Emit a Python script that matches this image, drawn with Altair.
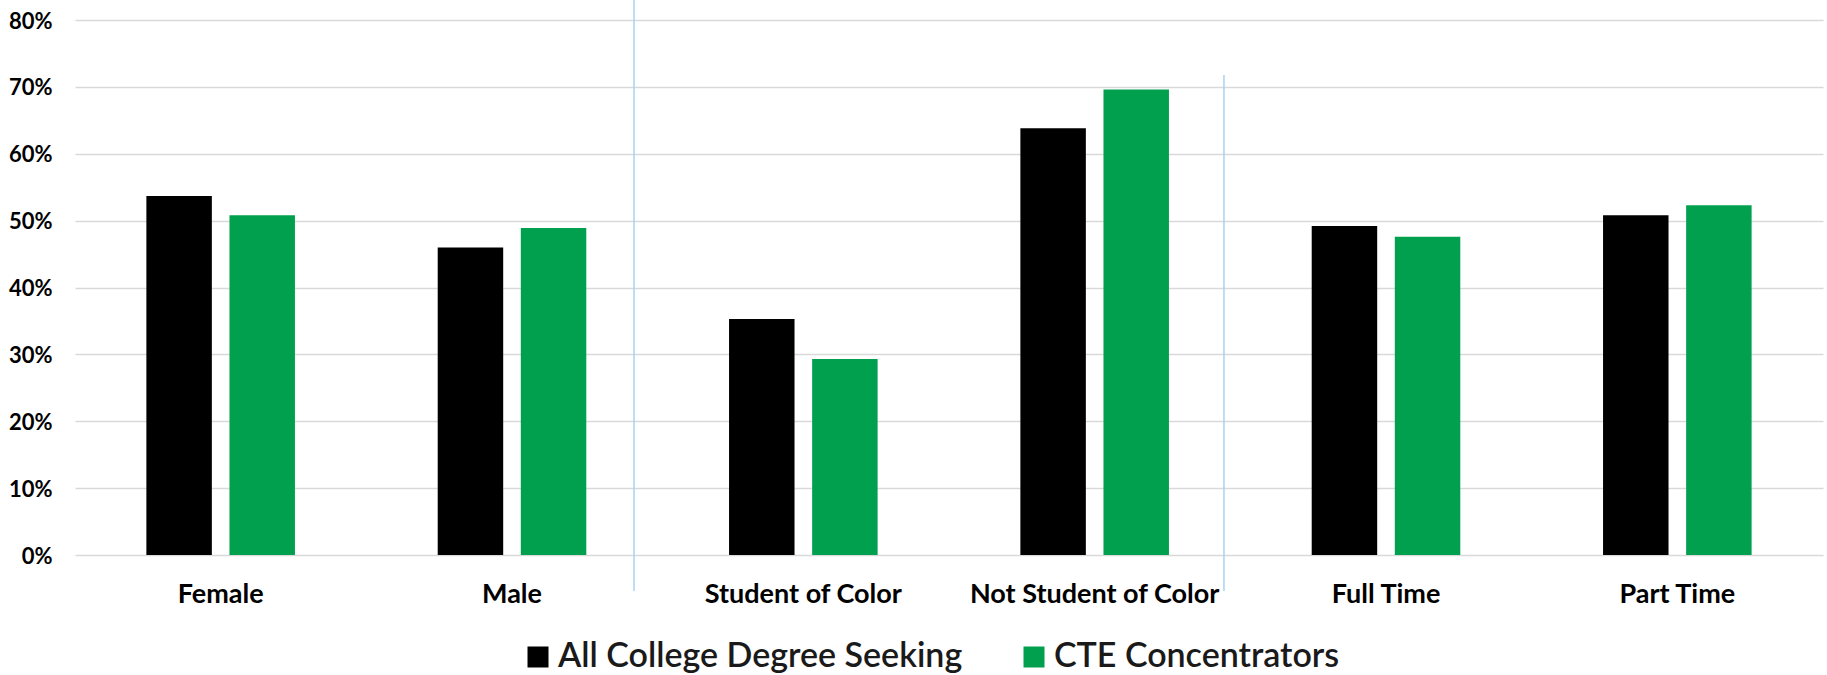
import altair as alt
import pandas as pd

# Groups along the x axis, in display order
categories = ["Female", "Male", "Student of Color", "Not Student of Color", "Full Time", "Part Time"]

# Series shown side by side within each group
series_names = ["All College Degree Seeking", "CTE Concentrators"]
series_colors = ["#000000", "#00A04E"]

# Share of students in each group (fractions of 1)
all_college = [0.537, 0.460, 0.353, 0.638, 0.492, 0.508]
cte_concentrators = [0.508, 0.489, 0.293, 0.696, 0.476, 0.523]

# Y axis gridline values
y_ticks = [0.0, 0.1, 0.2, 0.3, 0.4, 0.5, 0.6, 0.7, 0.8]

# Dividers drawn between the gender / color / enrollment blocks
divider_after = ["Male", "Not Student of Color"]

rows = []
for group, a, c in zip(categories, all_college, cte_concentrators):
    rows.append({"group": group, "series": series_names[0], "share": a})
    rows.append({"group": group, "series": series_names[1], "share": c})
df = pd.DataFrame(rows)

FONT = "Lato"

x_scale = alt.Scale(domain=categories, paddingInner=0.49, paddingOuter=0.245)

bars = alt.Chart(df).mark_bar().encode(
    x=alt.X(
        "group:N",
        scale=x_scale,
        sort=categories,
        axis=alt.Axis(
            title=None,
            labelAngle=0,
            labelFont=FONT,
            labelFontWeight="bold",
            labelFontSize=27,
            labelColor="#000000",
            labelPadding=26,
            labelLimit=0,
            ticks=False,
            domain=False,
            grid=False,
        ),
    ),
    xOffset=alt.XOffset(
        "series:N",
        scale=alt.Scale(domain=series_names, paddingInner=0.212, paddingOuter=0),
    ),
    y=alt.Y(
        "share:Q",
        scale=alt.Scale(domain=[0, 0.8], nice=False),
        axis=alt.Axis(
            title=None,
            format=".0%",
            values=y_ticks,
            labelFont=FONT,
            labelFontWeight="bold",
            labelFontSize=22,
            labelColor="#000000",
            labelPadding=23,
            labelOffset=1,
            labelLimit=0,
            ticks=False,
            domain=False,
            grid=True,
            gridColor="#d9d9d9",
            gridWidth=1.5,
        ),
    ),
    color=alt.Color(
        "series:N",
        scale=alt.Scale(domain=series_names, range=series_colors),
        legend=alt.Legend(
            title=None,
            orient="none",
            legendX=446,
            legendY=620,
            direction="horizontal",
            symbolType="square",
            symbolSize=441,
            symbolStrokeWidth=0,
            labelFont=FONT,
            labelFontWeight=600,
            labelFontSize=34,
            labelColor="#1a1a1a",
            labelOffset=3,
            labelLimit=0,
            columnPadding=54,
        ),
    ),
)

# Light blue divider lines placed just past the end of a block
div1 = alt.Chart(pd.DataFrame({"group": [divider_after[0]]})).mark_rule(
    color="#a6d3f7", strokeWidth=1.5, xOffset=47.7
).encode(
    x=alt.X("group:N", bandPosition=1),
    y=alt.value(-20),
    y2=alt.value(571),
)
div2 = alt.Chart(pd.DataFrame({"group": [divider_after[1]]})).mark_rule(
    color="#a6d3f7", strokeWidth=1.5, xOffset=55
).encode(
    x=alt.X("group:N", bandPosition=1),
    y=alt.value(55),
    y2=alt.value(571),
)

chart = (
    alt.layer(bars, div1, div2)
    .properties(
        width=1748,
        height=535,
        autosize=alt.AutoSizeParams(type="none"),
        padding={"left": 75, "top": 20, "right": 4, "bottom": 120},
        background="#ffffff",
    )
    .configure_view(strokeWidth=0)
)

chart.save("out.html", embed_options={"renderer": "svg", "actions": False})
